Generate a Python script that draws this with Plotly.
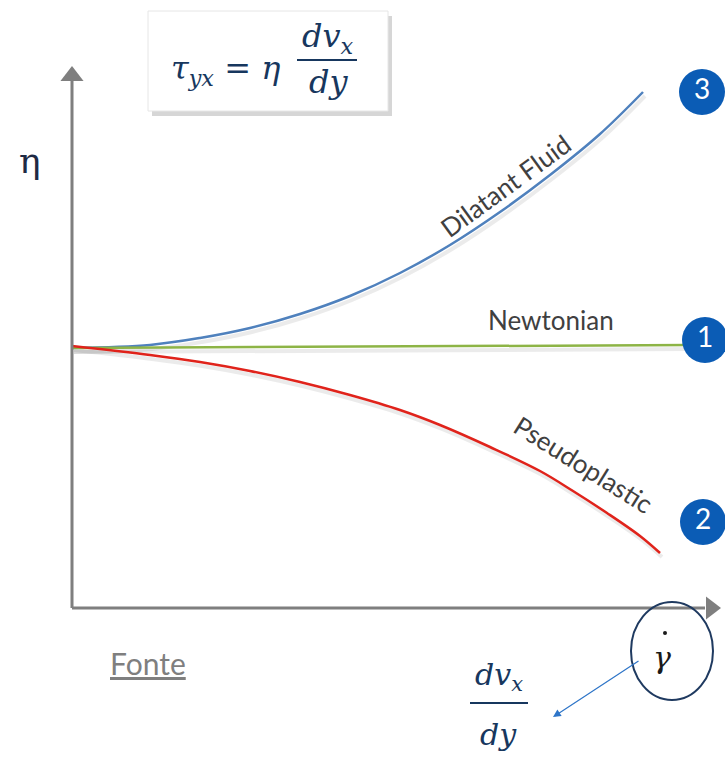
import plotly.graph_objects as go

# ---- data (shear rate vs viscosity; arbitrary units) ----
shear = [0, 78, 128, 178, 228, 278, 328, 378, 428, 478, 528, 571]
dilatant = [260, 263, 270, 280, 294, 312, 335, 363, 396, 433, 474, 516]
shear_p = [0, 78, 128, 178, 228, 278, 328, 368, 418, 468, 501, 535, 568, 588]
pseudoplastic = [262, 253, 246, 237, 226, 213, 198, 183, 161, 137, 117, 95, 72, 55]
shear_n = [0, 618]
newtonian = [260, 263]

labels = ["Dilatant Fluid", "Newtonian", "Pseudoplastic"]
numbers = ["3", "1", "2"]

W, H = 725, 764
OX, OY = 72, 608  # pixel origin of the axes corner


def X(px):
    return px - OX


def Y(py):
    return OY - py


fig = go.Figure()

# subtle shadows
for xs, ys in [(shear, dilatant), (shear_n, newtonian), (shear_p, pseudoplastic)]:
    fig.add_trace(go.Scatter(x=[v + 2 for v in xs], y=[v - 4 for v in ys], mode="lines",
                             line=dict(color="rgba(0,0,0,0.08)", width=4, shape="spline", smoothing=1.0),
                             hoverinfo="skip", showlegend=False))

fig.add_trace(go.Scatter(x=shear, y=dilatant, mode="lines", name=labels[0],
                         line=dict(color="#4f81bd", width=2.5, shape="spline", smoothing=1.0), showlegend=False))
fig.add_trace(go.Scatter(x=shear_n, y=newtonian, mode="lines", name=labels[1],
                         line=dict(color="#8db446", width=2.5), showlegend=False))
fig.add_trace(go.Scatter(x=shear_p, y=pseudoplastic, mode="lines", name=labels[2],
                         line=dict(color="#e0231b", width=2.5, shape="spline", smoothing=1.0), showlegend=False))

# axes with arrowheads
axis_col = "#7f7f7f"
fig.add_shape(type="line", x0=0, y0=0, x1=0, y1=Y(80), line=dict(color=axis_col, width=3))
fig.add_shape(type="line", x0=0, y0=0, x1=X(705), y1=0, line=dict(color=axis_col, width=3))
fig.add_trace(go.Scatter(x=[0], y=[Y(76)], mode="markers", marker=dict(symbol="triangle-up", size=20, color=axis_col),
                         hoverinfo="skip", showlegend=False))
fig.add_trace(go.Scatter(x=[X(711)], y=[0], mode="markers", marker=dict(symbol="triangle-right", size=20, color=axis_col),
                         hoverinfo="skip", showlegend=False))

# numbered circles
fig.add_trace(go.Scatter(x=[X(702), X(705), X(703)], y=[Y(92), Y(340), Y(522)], mode="markers+text",
                         marker=dict(size=46, color="#0b5cb5", line=dict(color="#0b5cb5", width=0)),
                         text=numbers, textfont=dict(color="white", size=28, family="Lato"),
                         textposition="middle center", cliponaxis=False, hoverinfo="skip", showlegend=False))

# curve labels
lab_font = dict(family="Lato", size=26, color="#404040")
fig.add_annotation(x=X(505), y=Y(186), text=labels[0], showarrow=False, textangle=-36, font=lab_font)
fig.add_annotation(x=X(551), y=Y(320), text=labels[1], showarrow=False, font=lab_font)
fig.add_annotation(x=X(583), y=Y(464), text=labels[2], showarrow=False, textangle=32, font=lab_font)

# eta label
fig.add_annotation(x=X(30), y=Y(160), text="η", showarrow=False,
                   font=dict(family="DejaVu Serif", size=36, color="#1f2a44"))

# formula box
fig.add_shape(type="rect", x0=X(152), y0=Y(16), x1=X(392), y1=Y(116), line=dict(width=0),
              fillcolor="rgba(0,0,0,0.16)", layer="below")
fig.add_shape(type="rect", x0=X(148), y0=Y(11), x1=X(388), y1=Y(111),
              line=dict(color="#e6e6e6", width=1), fillcolor="white", layer="below")
math_font = dict(family="DejaVu Serif", size=32, color="#17375e")
fig.add_annotation(x=X(225), y=Y(70), text="<i>τ<sub>yx</sub></i> = <i>η</i>", showarrow=False, font=math_font)
fig.add_annotation(x=X(328), y=Y(38), text="<i>dv<sub>x</sub></i>", showarrow=False, font=math_font)
fig.add_shape(type="line", x0=X(297), y0=Y(60), x1=X(357), y1=Y(60), line=dict(color="#17375e", width=2))
fig.add_annotation(x=X(328), y=Y(82), text="<i>dy</i>", showarrow=False, font=math_font)

# bottom: Fonte
fig.add_annotation(x=X(148), y=Y(663), text="<u>Fonte</u>", showarrow=False,
                   font=dict(family="Lato", size=30, color="#7f7f7f"))

# gamma dot circle
fig.add_shape(type="circle", x0=X(631), y0=Y(602), x1=X(713), y1=Y(700),
              line=dict(color="#1f3a60", width=2))
fig.add_annotation(x=X(662), y=Y(657), text="<i>γ</i>", showarrow=False,
                   font=dict(family="DejaVu Serif", size=30, color="#1a1a1a"))
fig.add_trace(go.Scatter(x=[X(665)], y=[Y(633)], mode="markers",
                         marker=dict(symbol="circle", size=4, color="#1a1a1a"),
                         hoverinfo="skip", showlegend=False))

# arrow to dv/dy
fig.add_annotation(x=X(553), y=Y(717), ax=X(640), ay=Y(660), axref="x", ayref="y",
                   xref="x", yref="y", text="", showarrow=True, arrowhead=2, arrowsize=1.3,
                   arrowwidth=1.2, arrowcolor="#2e75c8")

# dv/dy fraction
fig.add_annotation(x=X(499), y=Y(676), text="<i>dv<sub>x</sub></i>", showarrow=False,
                   font=dict(family="DejaVu Serif", size=30, color="#17375e"))
fig.add_shape(type="line", x0=X(470), y0=Y(703), x1=X(528), y1=Y(703), line=dict(color="#17375e", width=2))
fig.add_annotation(x=X(498), y=Y(734), text="<i>dy</i>", showarrow=False,
                   font=dict(family="DejaVu Serif", size=30, color="#17375e"))

fig.update_layout(
    width=W, height=H, margin=dict(l=0, r=0, t=0, b=0),
    paper_bgcolor="white", plot_bgcolor="white",
    xaxis=dict(range=[X(0), X(W)], visible=False, fixedrange=True),
    yaxis=dict(range=[Y(H), Y(0)], visible=False, fixedrange=True),
    showlegend=False,
)

fig.write_html("out.html", config={"displayModeBar": False},
               post_script="document.body.style.margin='0';document.body.style.overflow='hidden';")
